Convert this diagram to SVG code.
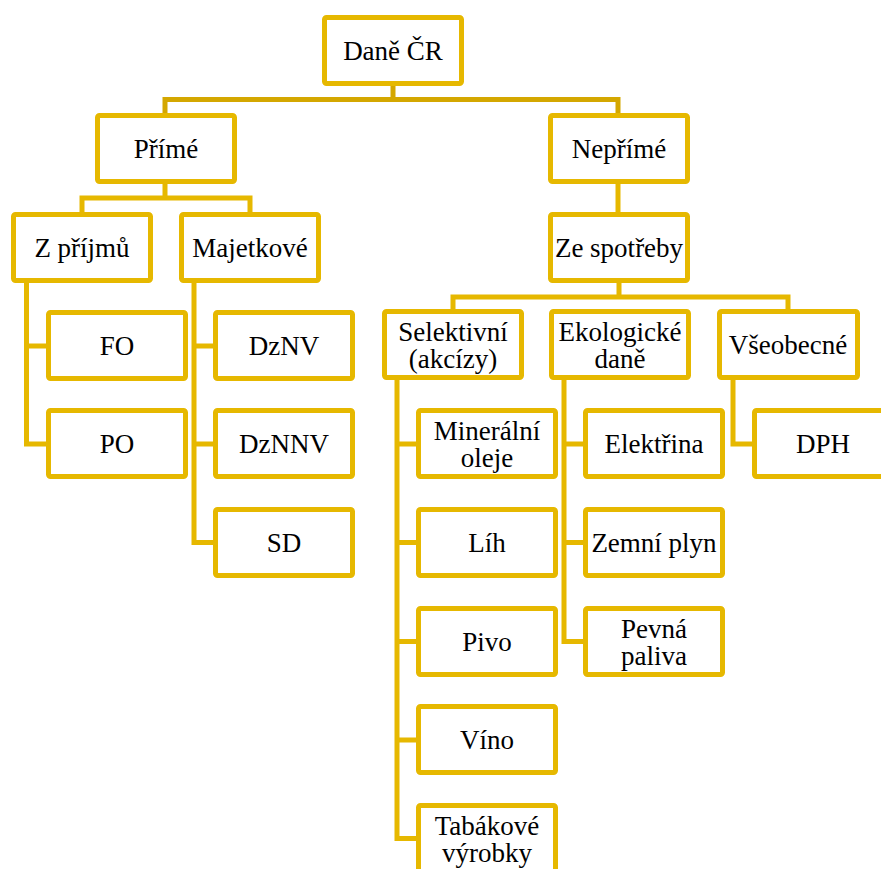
<svg xmlns="http://www.w3.org/2000/svg" width="881" height="869" viewBox="0 0 881 869">
<style>
.box rect{fill:#fff;stroke:#E6B800;stroke-width:5;}
.box text{font-family:'Liberation Serif','Times New Roman',serif;font-size:27px;fill:#000;text-anchor:middle;}
.conn path{fill:none;stroke:#E6B800;stroke-width:5;stroke-linejoin:miter;}
.conn path.top{stroke:#D4A700;}
</style>
<rect width="881" height="869" fill="#fff"/>
<g class="conn" id="connectors">
<path class="top" d="M393,86 V99.5 M165,113 V99.5 H618 V113"/>
<path d="M165,184 V198 M82,212 V198 H250 V212"/>
<path d="M618,184 V212"/>
<path d="M619,283 V297 M453,309 V297 H788 V309"/>
<path d="M26.5,283 V444 H46 M26.5,346 H46"/>
<path d="M194,283 V542.5 H213 M194,346 H213 M194,444 H213"/>
<path d="M397,380 V838.5 H416 M397,444 H416 M397,542.5 H416 M397,641.5 H416 M397,740 H416"/>
<path d="M564,380 V641.5 H583 M564,444 H583 M564,542.5 H583"/>
<path d="M733,380 V444 H752"/>
</g>
<g class="box" id="dane-cr"><rect x="324.5" y="17.5" width="137" height="66" rx="2"/><text x="393" y="60">Daně ČR</text></g>
<g class="box" id="prime"><rect x="97.5" y="115.5" width="137" height="66" rx="2"/><text x="166" y="158">Přímé</text></g>
<g class="box" id="neprime"><rect x="550.5" y="115.5" width="137" height="66" rx="2"/><text x="619" y="158">Nepřímé</text></g>
<g class="box" id="z-prijmu"><rect x="13.5" y="214.5" width="137" height="66" rx="2"/><text x="82" y="257">Z příjmů</text></g>
<g class="box" id="majetkove"><rect x="181.5" y="214.5" width="137" height="66" rx="2"/><text x="250" y="257">Majetkové</text></g>
<g class="box" id="ze-spotreby"><rect x="550.5" y="214.5" width="137" height="66" rx="2"/><text x="619" y="257">Ze spotřeby</text></g>
<g class="box" id="fo"><rect x="48.5" y="312.5" width="137" height="66" rx="2"/><text x="117" y="355">FO</text></g>
<g class="box" id="po"><rect x="48.5" y="410.5" width="137" height="66" rx="2"/><text x="117" y="453">PO</text></g>
<g class="box" id="dznv"><rect x="215.5" y="312.5" width="137" height="66" rx="2"/><text x="284" y="355">DzNV</text></g>
<g class="box" id="dznnv"><rect x="215.5" y="410.5" width="137" height="66" rx="2"/><text x="284" y="453">DzNNV</text></g>
<g class="box" id="sd"><rect x="215.5" y="509.5" width="137" height="66" rx="2"/><text x="284" y="552">SD</text></g>
<g class="box" id="selektivni"><rect x="384.5" y="311.5" width="137" height="66" rx="2"/><text x="453" y="341">Selektivní</text><text x="453" y="368">(akcízy)</text></g>
<g class="box" id="ekologicke"><rect x="551.5" y="311.5" width="137" height="66" rx="2"/><text x="620" y="341">Ekologické</text><text x="620" y="368">daně</text></g>
<g class="box" id="vseobecne"><rect x="719.5" y="311.5" width="138" height="66" rx="2"/><text x="788" y="354">Všeobecné</text></g>
<g class="box" id="mineralni"><rect x="418.5" y="410.5" width="137" height="66" rx="2"/><text x="487" y="440">Minerální</text><text x="487" y="467">oleje</text></g>
<g class="box" id="lih"><rect x="418.5" y="509.5" width="137" height="66" rx="2"/><text x="487" y="552">Líh</text></g>
<g class="box" id="pivo"><rect x="418.5" y="608.5" width="137" height="66" rx="2"/><text x="487" y="651">Pivo</text></g>
<g class="box" id="vino"><rect x="418.5" y="706.5" width="137" height="66" rx="2"/><text x="487" y="749">Víno</text></g>
<g class="box" id="tabakove"><rect x="418.5" y="805.5" width="137" height="66" rx="2"/><text x="487" y="835">Tabákové</text><text x="487" y="862">výrobky</text></g>
<g class="box" id="elektrina"><rect x="585.5" y="410.5" width="137" height="66" rx="2"/><text x="654" y="453">Elektřina</text></g>
<g class="box" id="zemni-plyn"><rect x="585.5" y="509.5" width="137" height="66" rx="2"/><text x="654" y="552">Zemní plyn</text></g>
<g class="box" id="pevna-paliva"><rect x="585.5" y="608.5" width="137" height="66" rx="2"/><text x="654" y="638">Pevná</text><text x="654" y="665">paliva</text></g>
<g class="box" id="dph"><rect x="754.5" y="410.5" width="137" height="66" rx="2"/><text x="823" y="453">DPH</text></g>
</svg>
